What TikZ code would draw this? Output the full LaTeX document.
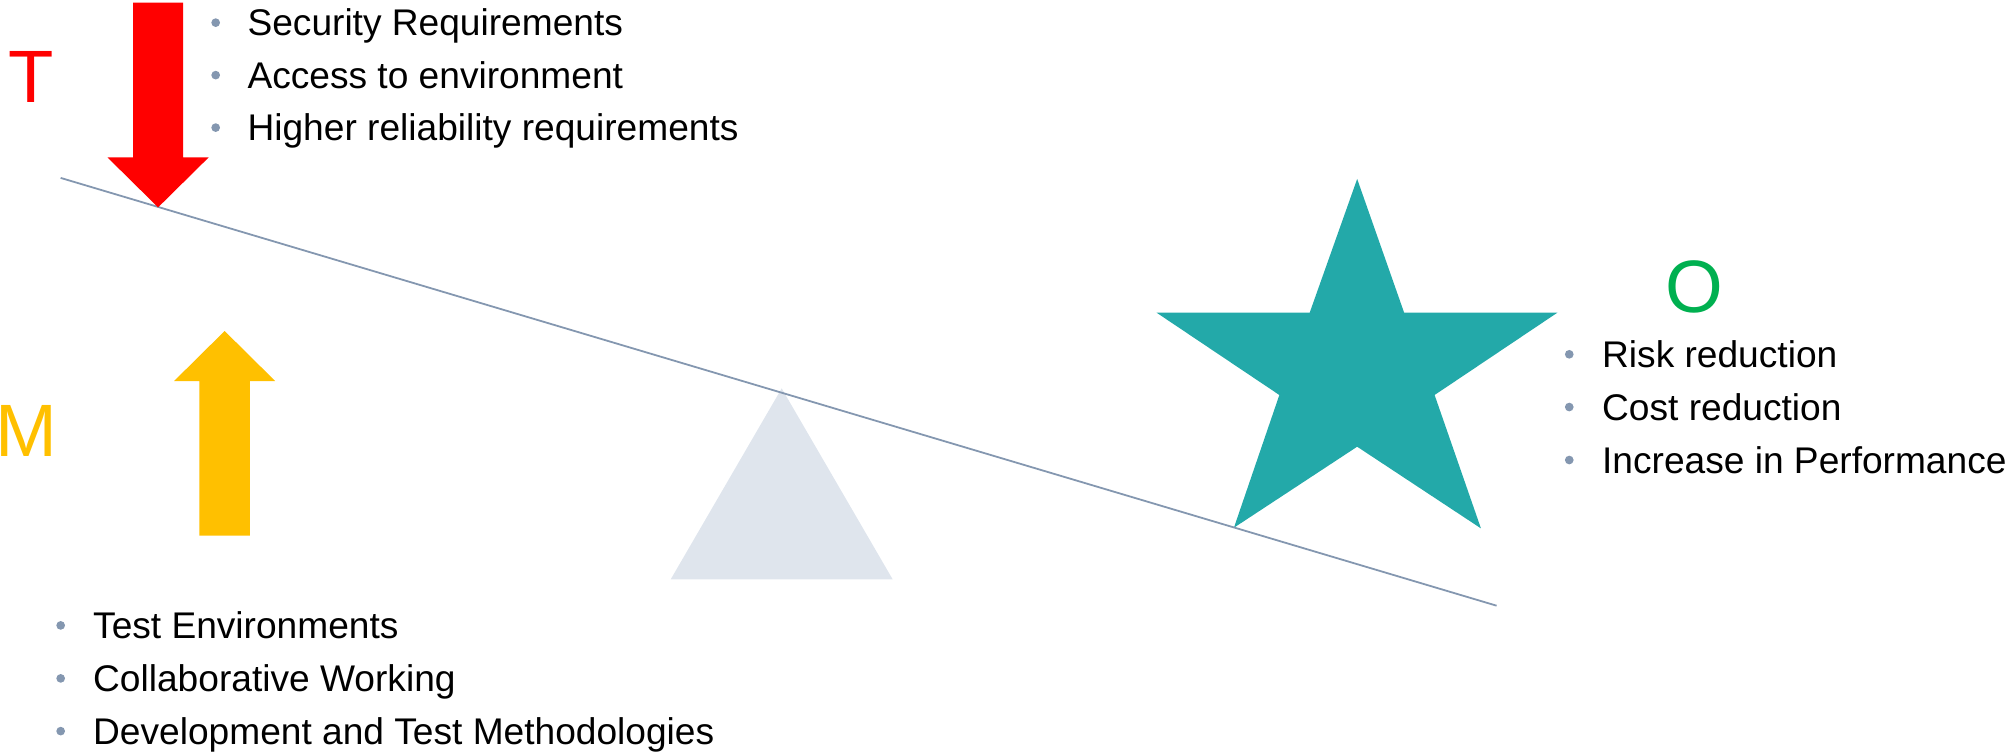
\documentclass[tikz,border=0pt]{standalone}
\usepackage{fontspec}
\setmainfont{Liberation Sans}
\definecolor{beamcol}{HTML}{8497B0}
\definecolor{fulcrum}{HTML}{DFE5ED}
\definecolor{teal2}{HTML}{23A9A9}
\definecolor{tred}{HTML}{FF0000}
\definecolor{myellow}{HTML}{FFC000}
\definecolor{ogreen}{HTML}{00B050}
\begin{document}
\begin{tikzpicture}[x=0.5pt,y=-0.5pt,
  item/.style={anchor=base west,inner sep=0pt,font=\fontsize{14.5pt}{17pt}\selectfont,text=black},
  bul/.style={circle,fill=beamcol,inner sep=0pt,minimum size=3.4pt},
  big/.style={anchor=base,inner sep=0pt,font=\fontsize{29pt}{34pt}\selectfont},
  beam/.style={draw=beamcol,line width=0.7pt}]
\useasboundingbox (0,0) rectangle (1568,588.3);
% fulcrum
\fill[fulcrum] (610.7,303.4) -- (524,452.6) -- (697.4,452.6) -- cycle;
% star
\fill[teal2] (1060.3,139.8) -- (1097,244.3) -- (1216.7,244.3) -- (1120.8,308.6) -- (1157,412.8)
  -- (1060.3,349) -- (964,412.3) -- (999.5,308.6) -- (903.6,244.3) -- (1023.2,244.3) -- cycle;
% beam
\coordinate (beamL) at (47.4,139);
\coordinate (beamR) at (1169.2,473.2);
\draw[beam] (beamL) -- (beamR);
% red arrow (down)
\fill[tred] (104,2) -- (143,2) -- (143,123) -- (163,123) -- (123.5,162) -- (84,123) -- (104,123) -- cycle;
% yellow arrow (up)
\fill[myellow] (175.5,258.6) -- (215,297.7) -- (195.3,297.7) -- (195.3,418.5) -- (155.8,418.5) -- (155.8,297.7) -- (136,297.7) -- cycle;
% letters
\node[big,text=tred] (T) at (24.4,80) {T};
\node[big,text=myellow] (M) at (20.5,357) {M};
\node[big,text=ogreen] (O) at (1323.5,244) {O};
% top list
\node[bul] (b1) at (168.5,17.7) {};
\node[bul] (b2) at (168.5,58.7) {};
\node[bul] (b3) at (168.5,99.7) {};
\node[item] (t1) at (193,28.1) {Security Requirements};
\node[item] (t2) at (193,69.1) {Access to environment};
\node[item] (t3) at (193,110.1) {Higher reliability requirements};
% bottom list
\node[bul] (b4) at (47.4,488.6) {};
\node[bul] (b5) at (47.4,530) {};
\node[bul] (b6) at (47.4,571.2) {};
\node[item] (t4) at (72.4,498.7) {Test Environments};
\node[item] (t5) at (72.4,540.2) {Collaborative Working};
\node[item] (t6) at (72.4,581.3) {Development and Test Methodologies};
% right list
\node[bul] (b7) at (1226,276.8) {};
\node[bul] (b8) at (1226,318) {};
\node[bul] (b9) at (1226,359.4) {};
\node[item] (t7) at (1251.3,287.2) {Risk reduction};
\node[item] (t8) at (1251.3,328.4) {Cost reduction};
\node[item] (t9) at (1251.3,369.8) {Increase in Performance};
\end{tikzpicture}
\end{document}
